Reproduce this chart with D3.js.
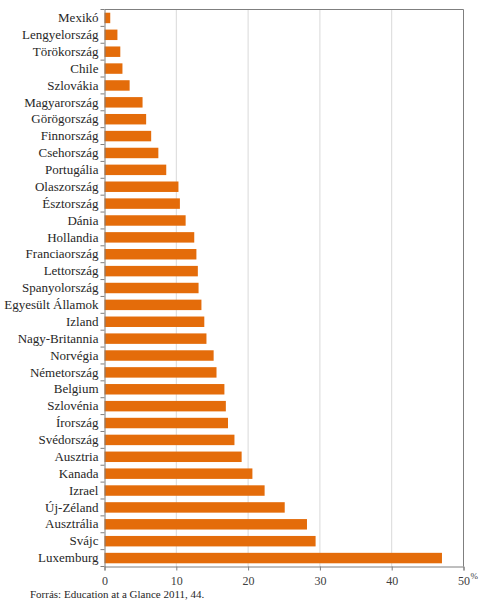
<!DOCTYPE html>
<html><head><meta charset="utf-8">
<script src="https://cdn.jsdelivr.net/npm/d3@7"></script>
<style>body{margin:0;background:#fff;} svg{display:block;} text{font-family:"Liberation Serif","DejaVu Serif",serif;}</style>
</head><body>
<script>
const categories = ["Mexikó","Lengyelország","Törökország","Chile","Szlovákia","Magyarország","Görögország","Finnország","Csehország","Portugália","Olaszország","Észtország","Dánia","Hollandia","Franciaország","Lettország","Spanyolország","Egyesült Államok","Izland","Nagy-Britannia","Norvégia","Németország","Belgium","Szlovénia","Írország","Svédország","Ausztria","Kanada","Izrael","Új-Zéland","Ausztrália","Svájc","Luxemburg"];
const values = [0.8,1.8,2.2,2.5,3.5,5.3,5.8,6.5,7.5,8.6,10.3,10.5,11.3,12.5,12.8,13.0,13.1,13.5,13.9,14.2,15.2,15.6,16.7,16.9,17.2,18.1,19.1,20.6,22.3,25.1,28.2,29.4,47.0];
const xTicks = [0,10,20,30,40,50];

const W = 481, H = 602;
const m = {left:104.5, top:9.5, right:463.5, bottom:566.5};
const font = '"Liberation Serif","DejaVu Serif",serif';
const svg = d3.select("body").append("svg").attr("width",W).attr("height",H);

const x = d3.scaleLinear().domain([0,50]).range([m.left, m.right]);
const y = d3.scaleBand().domain(categories).range([m.top, m.bottom]).paddingInner(0.38).paddingOuter(0.19);

// gridlines
svg.append("g").selectAll("line").data(xTicks.filter(d=>d>0 && d<50)).join("line")
  .attr("x1",d=>x(d)).attr("x2",d=>x(d)).attr("y1",m.top).attr("y2",m.bottom)
  .attr("stroke","#d9d9d9").attr("stroke-width",1);

// frame top/right
svg.append("path").attr("d",`M${m.left},${m.top}H${m.right}V${m.bottom}`)
  .attr("fill","none").attr("stroke","#7f7f7f").attr("stroke-width",1);

// bars
svg.append("g").selectAll("rect").data(categories).join("rect")
  .attr("x",x(0)).attr("y",d=>y(d)).attr("height",y.bandwidth())
  .attr("width",(d,i)=>x(values[i])-x(0)).attr("fill","#E46C0A");

// bottom axis
const xa = svg.append("g").attr("transform",`translate(0,${m.bottom})`)
  .call(d3.axisBottom(x).tickValues(xTicks).tickSize(4).tickPadding(6));
xa.attr("font-family",null);
xa.select(".domain").attr("stroke","#7f7f7f");
xa.selectAll(".tick line").attr("stroke","#7f7f7f");
xa.selectAll(".tick text").style("font-family",font).style("font-size","12px").attr("fill","#404040");

// left axis
const ya = svg.append("g").attr("transform",`translate(${m.left},0)`)
  .call(d3.axisLeft(y).tickSize(0).tickPadding(6));
ya.attr("font-family",null);
ya.select(".domain").attr("stroke","#7f7f7f");
ya.selectAll(".tick text").style("font-family",font).style("font-size","13px").attr("fill","#262626");
// category boundary ticks
const bounds = d3.range(categories.length+1).map(i=>m.top + i*(m.bottom-m.top)/categories.length);
svg.append("g").selectAll("line").data(bounds).join("line")
  .attr("x1",m.left-4).attr("x2",m.left).attr("y1",d=>d).attr("y2",d=>d)
  .attr("stroke","#7f7f7f");

// unit
svg.append("text").attr("x",m.right+7).attr("y",m.bottom+12).text("%")
  .style("font-family",font).style("font-size","9px").attr("fill","#404040");

// source
svg.append("text").attr("x",30).attr("y",598).text("Forrás: Education at a Glance 2011, 44.")
  .style("font-family",font).style("font-size","11px").attr("fill","#262626");
</script>
</body></html>
